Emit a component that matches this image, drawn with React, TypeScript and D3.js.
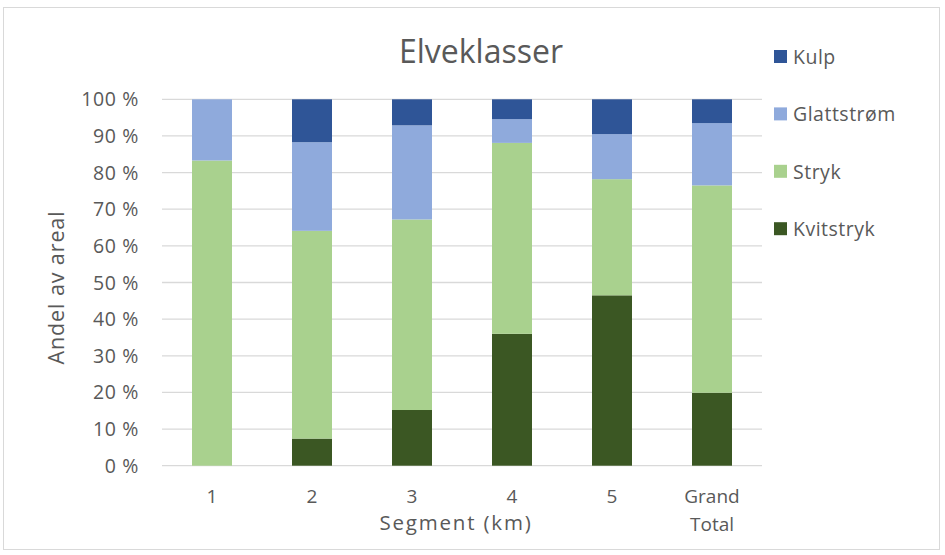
import React from "react";
import * as d3 from "d3";

// Segment categories along the river, plus the overall total
const categories = ["1", "2", "3", "4", "5", "Grand Total"];

// Share of area (%) per habitat class, per segment
const kvitstryk = [0, 7.4, 15.2, 36.0, 46.5, 19.9];
const stryk = [83.3, 56.7, 52.0, 52.1, 31.7, 56.6];
const glattstrom = [16.7, 24.2, 25.7, 6.5, 12.3, 17.0];
const kulp = [0, 11.7, 7.1, 5.4, 9.5, 6.5];

const seriesNames = ["Kvitstryk", "Stryk", "Glattstrøm", "Kulp"];
const seriesValues = [kvitstryk, stryk, glattstrom, kulp];
const seriesColors = ["#3B5723", "#A9D18E", "#8FAADC", "#2F5597"];

const yTicks = [0, 10, 20, 30, 40, 50, 60, 70, 80, 90, 100];

const W = 945;
const H = 555;
const FONT = "'Open Sans', sans-serif";
const TEXT = "#595959";

export default function App() {
  const plot = { left: 162, right: 762, top: 99.3, bottom: 465.7 };

  const x = d3
    .scaleBand<string>()
    .domain(categories)
    .range([plot.left, plot.right])
    .paddingInner(0.6)
    .paddingOuter(0.3);

  const y = d3.scaleLinear().domain([0, 100]).range([plot.bottom, plot.top]);

  const rows = categories.map((c, i) => {
    const r: Record<string, number | string> = { cat: c };
    seriesNames.forEach((s, k) => (r[s] = seriesValues[k][i]));
    return r;
  });
  const stacked = d3.stack<Record<string, number | string>>().keys(seriesNames)(rows as any);

  // legend listed top-down in reverse stacking order
  const legendOrder = [3, 2, 1, 0];

  return (
    <svg
      width={W}
      height={H}
      style={{ position: "absolute", left: 0, top: 0, background: "#fff" }}
      fontFamily={FONT}
    >
      <rect x={3.5} y={7.5} width={936} height={542} fill="#fff" stroke="#D9D9D9" />

      <text x={481} y={63} textAnchor="middle" fontSize={32} fill={TEXT}>
        Elveklasser
      </text>

      {yTicks.map((t) => (
        <g key={t}>
          <line
            x1={plot.left}
            x2={plot.right}
            y1={y(t)}
            y2={y(t)}
            stroke="#D9D9D9"
            strokeWidth={1.3}
          />
          <text
            x={139}
            y={y(t)}
            dy="0.36em"
            textAnchor="end"
            fontSize={19.5}
            letterSpacing={0.6}
            fill={TEXT}
          >
            {`${t} %`}
          </text>
        </g>
      ))}

      {stacked.map((layer, k) => (
        <g key={seriesNames[k]} fill={seriesColors[k]}>
          {layer.map((d, i) => {
            const h = y(d[0]) - y(d[1]);
            if (h <= 0) return null;
            return (
              <rect
                key={i}
                x={x(categories[i])}
                width={x.bandwidth()}
                y={y(d[1])}
                height={h}
              />
            );
          })}
        </g>
      ))}

      {categories.map((c) => {
        const cx = (x(c) ?? 0) + x.bandwidth() / 2;
        const parts = c === "Grand Total" ? ["Grand", "Total"] : [c];
        return (
          <text key={c} x={cx} textAnchor="middle" fontSize={19} fill={TEXT}>
            {parts.map((p, j) => (
              <tspan key={j} x={cx} y={503 + j * 28}>
                {p}
              </tspan>
            ))}
          </text>
        );
      })}

      <text
        x={456}
        y={530}
        textAnchor="middle"
        fontSize={20.5}
        letterSpacing={1.8}
        fill={TEXT}
      >
        Segment (km)
      </text>
      <text
        transform={`translate(64, ${(plot.top + plot.bottom) / 2 + 5}) rotate(-90)`}
        textAnchor="middle"
        fontSize={21.5}
        letterSpacing={0.9}
        fill={TEXT}
      >
        Andel av areal
      </text>

      {legendOrder.map((k, j) => {
        const ly = 57 + j * 57.4;
        return (
          <g key={seriesNames[k]}>
            <rect x={774} y={ly - 7} width={13} height={13} fill={seriesColors[k]} />
            <text
              x={793}
              y={ly}
              dy="0.36em"
              fontSize={19.5}
              letterSpacing={0.5}
              fill={TEXT}
            >
              {seriesNames[k]}
            </text>
          </g>
        );
      })}
    </svg>
  );
}
